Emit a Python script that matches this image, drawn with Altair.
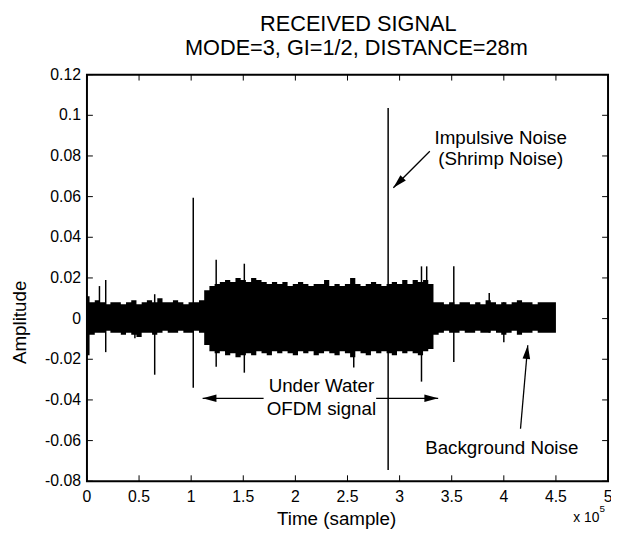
import altair as alt
import pandas as pd

FONT = "Liberation Sans"

# ---------------- data (time in units of 1e5 samples) ----------------
env_step = 0.05
env_x = [round(i * env_step, 2) for i in range(91)]
env_hi = [0.011, 0.008, 0.009, 0.008, 0.007, 0.008, 0.008, 0.007, 0.008, 0.009,
          0.007, 0.008, 0.009, 0.008, 0.010, 0.008, 0.008, 0.009, 0.008, 0.007,
          0.008, 0.008, 0.009, 0.014, 0.016, 0.017, 0.018, 0.019, 0.018, 0.020,
          0.019, 0.018, 0.020, 0.019, 0.018, 0.017, 0.018, 0.017, 0.018, 0.016,
          0.017, 0.018, 0.017, 0.016, 0.017, 0.017, 0.019, 0.016, 0.017, 0.016,
          0.017, 0.020, 0.017, 0.016, 0.017, 0.018, 0.017, 0.016, 0.017, 0.018,
          0.017, 0.019, 0.017, 0.019, 0.018, 0.019, 0.017, 0.008, 0.008, 0.007,
          0.008, 0.007, 0.008, 0.008, 0.007, 0.008, 0.007, 0.009, 0.008, 0.007,
          0.008, 0.007, 0.008, 0.009, 0.008, 0.008, 0.007, 0.008, 0.008, 0.008,
          0.008]
env_lo = [-0.018, -0.008, -0.007, -0.007, -0.006, -0.007, -0.007, -0.008, -0.007, -0.008,
          -0.009, -0.007, -0.007, -0.008, -0.007, -0.006, -0.007, -0.007, -0.006, -0.007,
          -0.007, -0.006, -0.007, -0.013, -0.016, -0.017, -0.016, -0.018, -0.017, -0.019,
          -0.018, -0.017, -0.018, -0.016, -0.017, -0.018, -0.016, -0.017, -0.016, -0.017,
          -0.018, -0.016, -0.017, -0.016, -0.018, -0.017, -0.016, -0.017, -0.018, -0.016,
          -0.017, -0.019, -0.016, -0.017, -0.018, -0.016, -0.017, -0.016, -0.017, -0.018,
          -0.016, -0.017, -0.016, -0.017, -0.018, -0.016, -0.015, -0.008, -0.007, -0.006,
          -0.007, -0.007, -0.006, -0.007, -0.007, -0.006, -0.007, -0.007, -0.006, -0.007,
          -0.008, -0.007, -0.006, -0.008, -0.007, -0.007, -0.006, -0.007, -0.007, -0.007,
          -0.007]

spike_x = [0.12, 0.18, 0.46, 0.65, 1.02, 1.24, 1.51, 2.56, 2.89, 3.21, 3.26, 3.52, 3.86, 4.00]
spike_lo = [-0.006, -0.0165, -0.0097, -0.0276, -0.034, -0.0237, -0.0266, -0.024,
            -0.0745, -0.031, -0.015, -0.0213, -0.007, -0.0116]
spike_hi = [0.016, 0.019, 0.008, 0.012, 0.0595, 0.029, 0.027, 0.020,
            0.1036, 0.0257, 0.0257, 0.0257, 0.0126, 0.008]

x_ticks = [0, 0.5, 1, 1.5, 2, 2.5, 3, 3.5, 4, 4.5, 5]
y_ticks = [-0.08, -0.06, -0.04, -0.02, 0, 0.02, 0.04, 0.06, 0.08, 0.1, 0.12]
x_tick_labels = ["0", "0.5", "1", "1.5", "2", "2.5", "3", "3.5", "4", "4.5", "5"]
y_tick_labels = ["-0.08", "-0.06", "-0.04", "-0.02", "0", "0.02", "0.04", "0.06", "0.08", "0.1", "0.12"]

title_lines = ["RECEIVED SIGNAL", "MODE=3, GI=1/2, DISTANCE=28m"]
x_title = "Time (sample)"
y_title = "Amplitude"
x_multiplier = ["x 10", "5"]
notes = ["Impulsive Noise", "(Shrimp Noise)", "Under Water", "OFDM signal", "Background Noise"]

# ---------------- tables ----------------
env_df = pd.DataFrame({"x": env_x, "hi": env_hi, "lo": env_lo})
spike_df = pd.DataFrame({"x": spike_x, "lo": spike_lo, "hi": spike_hi})
xt_df = pd.DataFrame({"v": x_ticks, "t": x_tick_labels})
yt_df = pd.DataFrame({"v": y_ticks, "t": y_tick_labels})
one = pd.DataFrame({"a": [0]})

xs = alt.Scale(domain=[0, 5], nice=False, zero=False)
ys = alt.Scale(domain=[-0.08, 0.12], nice=False, zero=False)

band = alt.Chart(env_df).mark_area(interpolate="step", color="black", opacity=1).encode(
    x=alt.X("x:Q", scale=xs, axis=None),
    y=alt.Y("hi:Q", scale=ys, axis=None),
    y2="lo:Q",
)

spikes = alt.Chart(spike_df).mark_rule(color="black", strokeWidth=1.5).encode(
    x=alt.X("x:Q", scale=xs, axis=None),
    y=alt.Y("lo:Q", scale=ys, axis=None),
    y2="hi:Q",
)

tick_style = dict(color="black", strokeWidth=1)
tb = alt.Chart(xt_df).mark_rule(**tick_style).encode(
    x=alt.X("v:Q", scale=xs, axis=None), y=alt.value(412), y2=alt.value(406))
tt = alt.Chart(xt_df).mark_rule(**tick_style).encode(
    x=alt.X("v:Q", scale=xs, axis=None), y=alt.value(0), y2=alt.value(6))
tl = alt.Chart(yt_df).mark_rule(**tick_style).encode(
    y=alt.Y("v:Q", scale=ys, axis=None), x=alt.value(0), x2=alt.value(6))
tr = alt.Chart(yt_df).mark_rule(**tick_style).encode(
    y=alt.Y("v:Q", scale=ys, axis=None), x=alt.value(528), x2=alt.value(522))

# tick labels drawn as text through the scales
xl = alt.Chart(xt_df).mark_text(font=FONT, fontSize=16, color="black",
                                align="center", baseline="top").encode(
    x=alt.X("v:Q", scale=xs, axis=None), y=alt.value(420), text="t:N")
yl = alt.Chart(yt_df).mark_text(font=FONT, fontSize=16, color="black",
                                align="right", baseline="middle").encode(
    y=alt.Y("v:Q", scale=ys, axis=None), x=alt.value(-6), text="t:N")


def note(text, x, y, size=19):
    return alt.Chart(one).mark_text(text=text, font=FONT, fontSize=size, color="black",
                                    align="center", baseline="middle").encode(
        x=alt.XDatum(x, scale=xs, axis=None), y=alt.YDatum(y, scale=ys, axis=None))


def arrow_line(x1, y1, x2, y2):
    return alt.Chart(one).mark_rule(color="black", strokeWidth=1.3).encode(
        x=alt.XDatum(x1, scale=xs, axis=None), y=alt.YDatum(y1, scale=ys, axis=None),
        x2=alt.X2Datum(x2), y2=alt.Y2Datum(y2))


HEAD = "M0,0L0.55,2L-0.55,2Z"


def arrow_head(x, y, angle):
    return alt.Chart(one).mark_point(shape=HEAD, size=196, filled=True, color="black",
                                     opacity=1, strokeWidth=0, angle=angle).encode(
        x=alt.XDatum(x, scale=xs, axis=None), y=alt.YDatum(y, scale=ys, axis=None))


def pix_text(text, px, py, size, angle=0):
    kw = dict(text=text, font=FONT, fontSize=size, color="black",
              align="center", baseline="middle")
    if angle:
        kw["angle"] = angle
    return alt.Chart(one).mark_text(**kw).encode(x=alt.value(px), y=alt.value(py))


layers = [
    band, spikes, tb, tt, tl, tr, xl, yl,
    note(notes[0], 3.97, 0.089),
    note(notes[1], 3.97, 0.0784),
    note(notes[2], 2.25, -0.0334),
    note(notes[3], 2.25, -0.0445),
    note(notes[4], 3.98, -0.0639),
    arrow_line(3.29, 0.0823, 2.94, 0.0644), arrow_head(2.94, 0.0644, 225),
    arrow_line(1.695, -0.0392, 1.11, -0.0392), arrow_head(1.11, -0.0392, 270),
    arrow_line(2.775, -0.0392, 3.37, -0.0392), arrow_head(3.37, -0.0392, 90),
    arrow_line(4.16, -0.0542, 4.23, -0.0131), arrow_head(4.23, -0.0131, 6),
    pix_text(title_lines[0], 275, -51, 22),
    pix_text(title_lines[1], 273, -27, 22),
    pix_text(y_title, -68, 251, 19, angle=270),
    pix_text(x_title, 253, 450, 19),
    pix_text(x_multiplier[0], 506, 449, 14),
    pix_text(x_multiplier[1], 522, 440, 10),
]

chart = alt.layer(*layers).properties(
    width=528, height=412,
    autosize=alt.AutoSizeParams(type="none"),
    padding={"left": 80, "top": 64, "right": 3, "bottom": 55},
).configure_view(stroke="black", strokeWidth=2)

chart.save("out.html", embed_options={"renderer": "svg", "actions": False})
